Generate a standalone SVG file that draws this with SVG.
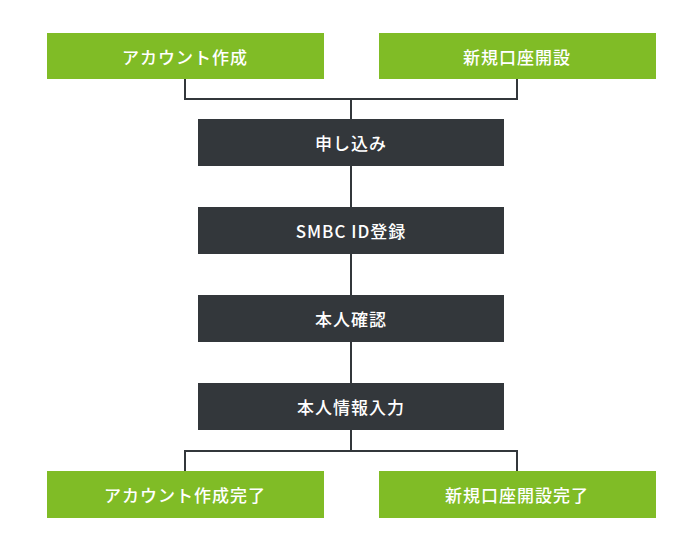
<svg xmlns="http://www.w3.org/2000/svg" width="700" height="549" viewBox="0 0 700 549">
<style>
.g{fill:#80bc26}.d{fill:#33373b}
text{fill:#fff;font-family:"Noto Sans CJK JP","Noto Sans",sans-serif;font-size:17px;font-weight:500;text-anchor:middle;dominant-baseline:central;letter-spacing:1px}
.c{fill:none;stroke:#33373b;stroke-width:2}
</style>
<rect width="700" height="549" fill="#fff"/>
<g id="connectors">
<polyline class="c" points="185,79 185,99 517,99 517,79"/>
<line class="c" x1="351" y1="99" x2="351" y2="119"/>
<line class="c" x1="351" y1="166" x2="351" y2="207"/>
<line class="c" x1="351" y1="254" x2="351" y2="295"/>
<line class="c" x1="351" y1="342" x2="351" y2="383"/>
<polyline class="c" points="185,471 185,451 517,451 517,471"/>
<line class="c" x1="351" y1="430" x2="351" y2="451"/>
</g>
<g id="n1"><rect class="g" x="47" y="33" width="277" height="46"/><text x="185" y="56">アカウント作成</text></g>
<g id="n2"><rect class="g" x="379" y="33" width="277" height="46"/><text x="517" y="56">新規口座開設</text></g>
<g id="n3"><rect class="d" x="198" y="119" width="306" height="47"/><text x="351" y="142">申し込み</text></g>
<g id="n4"><rect class="d" x="198" y="207" width="306" height="47"/><text x="351" y="230">SMBC ID登録</text></g>
<g id="n5"><rect class="d" x="198" y="295" width="306" height="47"/><text x="351" y="318">本人確認</text></g>
<g id="n6"><rect class="d" x="198" y="383" width="306" height="47"/><text x="351" y="406">本人情報入力</text></g>
<g id="n7"><rect class="g" x="47" y="471" width="277" height="47"/><text x="185" y="494">アカウント作成完了</text></g>
<g id="n8"><rect class="g" x="379" y="471" width="277" height="47"/><text x="517" y="494">新規口座開設完了</text></g>
</svg>
